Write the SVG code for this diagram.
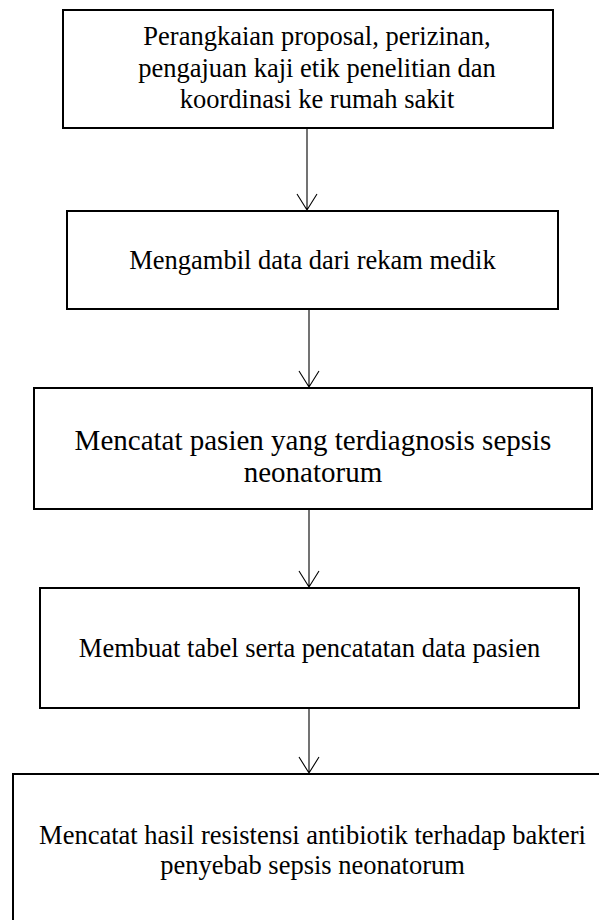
<svg xmlns="http://www.w3.org/2000/svg" width="599" height="920" viewBox="0 0 599 920">
<style>
.box{fill:#fff;stroke:#000;stroke-width:2}
.t{font-family:"Liberation Serif","Times New Roman",serif;font-size:26.5px;fill:#000;text-anchor:middle}
.big{font-size:29px}
.c{stroke:#000;stroke-width:1.1;fill:none}
</style>
<rect width="599" height="920" fill="#fff"/>
<g id="connectors">
<path class="c" d="M307 129V210M297 194L307 210L317 194"/>
<path class="c" d="M309 310V387M299 371L309 387L319 371"/>
<path class="c" d="M309 510V587M299 571L309 587L319 571"/>
<path class="c" d="M309 709V773M299 757L309 773L319 757"/>
</g>
<g id="node1">
<rect class="box" x="63" y="10" width="490" height="118"/>
<text class="t" x="317" y="45">Perangkaian proposal, perizinan,</text>
<text class="t" x="317" y="77">pengajuan kaji etik penelitian dan</text>
<text class="t" x="317" y="108">koordinasi ke rumah sakit</text>
</g>
<g id="node2">
<rect class="box" x="67" y="211" width="491" height="98"/>
<text class="t" x="312.5" y="269">Mengambil data dari rekam medik</text>
</g>
<g id="node3">
<rect class="box" x="34" y="388" width="558" height="121"/>
<text class="t big" x="313" y="450">Mencatat pasien yang terdiagnosis sepsis</text>
<text class="t big" x="313" y="482">neonatorum</text>
</g>
<g id="node4">
<rect class="box" x="40" y="588" width="539" height="120"/>
<text class="t" x="309.5" y="657">Membuat tabel serta pencatatan data pasien</text>
</g>
<g id="node5">
<rect class="box" x="13" y="774" width="600" height="160"/>
<text class="t" x="312.5" y="844">Mencatat hasil resistensi antibiotik terhadap bakteri</text>
<text class="t" x="312.5" y="874">penyebab sepsis neonatorum</text>
</g>
</svg>
